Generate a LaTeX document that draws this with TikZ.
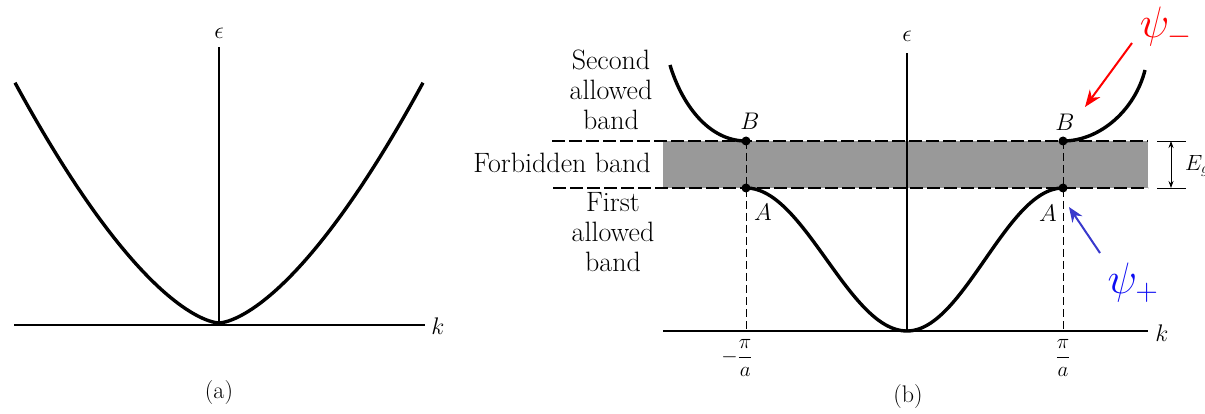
\RequirePackage{fix-cm}
\documentclass[tikz,border=0pt]{standalone}
\usetikzlibrary{arrows.meta}
\definecolor{psired}{rgb}{1,0,0}
\definecolor{psiblue}{rgb}{0.05,0.05,0.95}
\definecolor{arrblue}{rgb}{0.22,0.22,0.8}
\definecolor{bandgray}{gray}{0.6}
\begin{document}
\begin{tikzpicture}[x=1pt,y=-1pt,
  axis/.style={line width=1.4pt},
  curve/.style={line width=3.4pt},
  guide/.style={dash pattern=on 8pt off 4pt, line width=0.9pt},
  edgeline/.style={dash pattern=on 13pt off 4pt, line width=1.5pt},
  dot/.style={circle, fill=black, inner sep=0pt, minimum size=9pt},
  lbl/.style={font=\fontsize{28}{30}\selectfont, align=center, inner sep=0pt},
  sym/.style={font=\fontsize{24}{28}\selectfont, inner sep=0pt},
  frac/.style={font=\fontsize{21}{24}\selectfont, inner sep=0pt},
  psilbl/.style={font=\fontsize{44}{46}\selectfont, inner sep=0pt}]
\useasboundingbox (0,0) rectangle (1205,414);

% ---------- panel (a) ----------
\coordinate (ka0) at (14,325);
\coordinate (ka1) at (425,325);
\coordinate (ea0) at (219,325);
\coordinate (ea1) at (219,47);
\draw[axis] (ka0) -- (ka1);
\draw[axis] (ea0) -- (ea1);
\node[sym] (klA) at (438,326) {$k$};
\node[sym] (epsA) at (219,33) {$\epsilon$};
\draw[curve] plot[domain=15:423, samples=121, smooth]
  (\x, {323-0.05994*pow(abs(\x-219)+0.01,1.56)});
\node[inner sep=0pt, font=\fontsize{24}{28}\selectfont] (capA) at (219,393) {(a)};

% ---------- panel (b) ----------
\fill[bandgray] (663,141) rectangle (1148,188);
\coordinate (t0) at (552,141);
\coordinate (t1) at (1148,141);
\coordinate (b0) at (553,188);
\coordinate (b1) at (1148,188);
\draw[edgeline] (t0) -- (t1);
\draw[edgeline] (b0) -- (b1);

% E_g marker
\coordinate (g0) at (1157,141);
\coordinate (g1) at (1186,141);
\coordinate (g2) at (1157,188);
\coordinate (g3) at (1186,188);
\draw[line width=0.8pt] (g0) -- (g1);
\draw[line width=0.8pt] (g2) -- (g3);
\coordinate (ga) at (1171,141);
\coordinate (gb) at (1171,188);
\draw[line width=0.8pt, {Stealth[length=7pt,width=5pt]}-{Stealth[length=7pt,width=5pt]}] (ga) -- (gb);
\node[anchor=west, inner sep=0pt, font=\fontsize{22}{24}\selectfont] (Eg) at (1185,166) {$E_g$};

% axes
\coordinate (kb0) at (663,331);
\coordinate (kb1) at (1148,331);
\coordinate (eb0) at (907,331);
\coordinate (eb1) at (907,53);
\draw[axis] (kb0) -- (kb1);
\draw[axis] (eb0) -- (eb1);
\node[sym] (klB) at (1162,333) {$k$};
\node[sym] (epsB) at (907,36) {$\epsilon$};

% zone boundary guides
\coordinate (zl0) at (746,141);
\coordinate (zl1) at (746,331);
\coordinate (zr0) at (1063,141);
\coordinate (zr1) at (1063,331);
\draw[guide] (zl0) -- (zl1);
\draw[guide] (zr0) -- (zr1);

% bands
\draw[curve] plot[domain=746:907, samples=60, smooth]
  (\x, {331-71.5*(1-cos(1.118012*(\x-907)))});
\draw[curve] plot[domain=907:1063, samples=60, smooth]
  (\x, {331-71.5*(1-cos(1.153846*(\x-907)))});
\coordinate (ul) at (670,65);
\coordinate (ur) at (1145,70);
\node[dot] (B1) at (746,141) {};
\node[dot] (A1) at (746,188) {};
\node[dot] (B2) at (1063,141) {};
\node[dot] (A2) at (1063,188) {};
\draw[curve] (B1.center) .. controls (709,141) and (682,105) .. (ul);
\draw[curve] (B2.center) .. controls (1100,141) and (1135,110) .. (ur);

\node[sym] (lB1) at (750,121) {$B$};
\node[sym] (lA1) at (763,212) {$A$};
\node[sym] (lB2) at (1065,122) {$B$};
\node[sym] (lA2) at (1048,213) {$A$};

% texts
\node[lbl] (second) at (611,90) {Second\\allowed\\band};
\node[lbl] (forb) at (562,163) {Forbidden band};
\node[lbl] (first) at (613,232) {First\\allowed\\band};

\node[frac] (ml) at (737,358) {$\displaystyle -\frac{\pi}{a}$};
\node[frac] (mr) at (1063,358) {$\displaystyle \frac{\pi}{a}$};
\node[inner sep=0pt, font=\fontsize{24}{28}\selectfont] (capB) at (908,397) {(b)};

% psi labels
\node[psilbl, text=psired] (psim) at (1166,27) {$\psi_-$};
\node[psilbl, text=psiblue] (psip) at (1133,283) {$\psi_+$};
\coordinate (ra0) at (1132,43);
\coordinate (ra1) at (1085,107);
\draw[psired, line width=2pt, -{Stealth[length=17pt,width=13pt]}] (ra0) -- (ra1);
\coordinate (ba0) at (1100,253);
\coordinate (ba1) at (1069,207);
\draw[arrblue, line width=2pt, -{Stealth[length=15pt,width=12pt]}] (ba0) -- (ba1);
\end{tikzpicture}
\end{document}
